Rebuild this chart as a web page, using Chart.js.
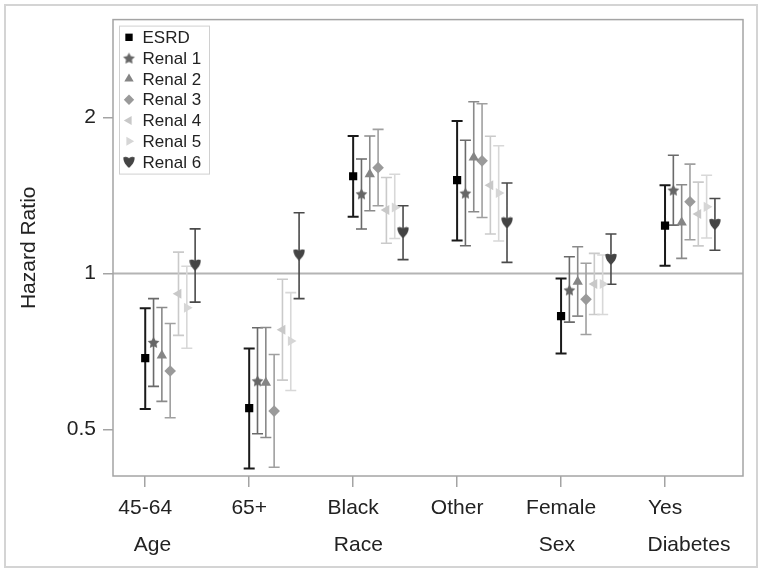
<!DOCTYPE html>
<html>
<head>
<meta charset="utf-8">
<script src="https://cdn.jsdelivr.net/npm/chart.js@4.4.0/dist/chart.umd.min.js"></script>
<style>
  body { margin: 0; background: #fff; }
</style>
</head>
<body>
<canvas id="hrChart" width="762" height="574"></canvas>
<script>
const categories = ["45-64", "65+", "Black", "Other", "Female", "Yes"];
const groupNames = ["Age", "Race", "Sex", "Diabetes"];
const groupAt = [0.07, 2.05, 3.96, 5.23]; // where the group names sit on the x scale
const seriesNames = ["ESRD", "Renal 1", "Renal 2", "Renal 3", "Renal 4", "Renal 5", "Renal 6"];
const yTicks = [0.5, 1, 2];

// one row per series, one column per category
const hazardRatio = [
    [0.687, 0.550, 1.541, 1.514, 0.828, 1.238],
    [0.737, 0.621, 1.425, 1.430, 0.930, 1.449],
    [0.695, 0.616, 1.555, 1.674, 0.965, 1.255],
    [0.649, 0.543, 1.601, 1.650, 0.892, 1.376],
    [0.914, 0.779, 1.326, 1.481, 0.955, 1.303],
    [0.859, 0.741, 1.341, 1.430, 0.955, 1.345],
    [1.040, 1.088, 1.201, 1.255, 1.067, 1.246]
];
const lowerCI = [
    [0.548, 0.421, 1.287, 1.159, 0.701, 1.035],
    [0.606, 0.491, 1.219, 1.132, 0.806, 1.240],
    [0.567, 0.483, 1.322, 1.316, 0.828, 1.070],
    [0.527, 0.423, 1.352, 1.283, 0.763, 1.162],
    [0.760, 0.623, 1.144, 1.192, 0.834, 1.131],
    [0.718, 0.595, 1.169, 1.156, 0.834, 1.171],
    [0.881, 0.895, 1.064, 1.051, 0.954, 1.109]
];
const upperCI = [
    [0.857, 0.717, 1.843, 1.969, 0.979, 1.481],
    [0.895, 0.786, 1.664, 1.808, 1.078, 1.692],
    [0.860, 0.787, 1.843, 2.145, 1.127, 1.484],
    [0.801, 0.698, 1.898, 2.126, 1.047, 1.626],
    [1.100, 0.975, 1.532, 1.840, 1.094, 1.501],
    [1.033, 0.919, 1.555, 1.765, 1.086, 1.548],
    [1.220, 1.310, 1.352, 1.495, 1.192, 1.396]
];

const markerColors = ["#000000", "#666666", "#858585", "#9a9a9a", "#c8c8c8", "#d6d6d6", "#444444"];
const barColors = ["#1a1a1a", "#6a6a6a", "#8a8a8a", "#a0a0a0", "#cacaca", "#d8d8d8", "#4a4a4a"];
const dodge = 0.08;

Chart.defaults.font.family = '"Liberation Sans", Arial, sans-serif';
Chart.defaults.color = "#222";

function starImage(color, r) {
    const c = document.createElement("canvas");
    const s = Math.ceil(r * 2) + 2;
    c.width = c.height = s;
    const g = c.getContext("2d");
    g.fillStyle = color;
    g.beginPath();
    for (let k = 0; k < 10; k++) {
        const a = -Math.PI / 2 + k * Math.PI / 5;
        const rad = k % 2 ? r * 0.5 : r;
        g.lineTo(s / 2 + rad * Math.cos(a), s / 2 + 0.6 + rad * Math.sin(a));
    }
    g.closePath();
    g.fill();
    return c;
}

// shield-like heart used for Renal 6
function heartImage(color, s) {
    const c = document.createElement("canvas");
    c.width = c.height = s;
    const g = c.getContext("2d");
    g.fillStyle = color;
    g.beginPath();
    g.moveTo(s / 2, s * 0.16);
    g.quadraticCurveTo(s * 0.25, s * 0.02, s * 0.03, s * 0.1);
    g.bezierCurveTo(s * 0.02, s * 0.55, s * 0.3, s * 0.78, s / 2, s * 0.98);
    g.bezierCurveTo(s * 0.7, s * 0.78, s * 0.98, s * 0.55, s * 0.97, s * 0.1);
    g.quadraticCurveTo(s * 0.75, s * 0.02, s / 2, s * 0.16);
    g.fill();
    return c;
}

const pointStyles = ["rect", starImage(markerColors[1], 6.2), "triangle", "rectRot", "triangle", "triangle", heartImage(markerColors[6], 12)];
const pointRotations = [0, 0, 0, 0, -90, 90, 0];
const pointSizes = [5.8, 6, 6, 5.8, 5.8, 5.8, 6];

const datasets = seriesNames.map((name, i) => ({
    label: name,
    data: hazardRatio[i].map((v, j) => ({ x: j + i * dodge, y: v })),
    pointStyle: pointStyles[i],
    pointRotation: pointRotations[i],
    pointRadius: pointSizes[i],
    pointBackgroundColor: markerColors[i],
    pointBorderColor: markerColors[i],
    pointBorderWidth: 0,
    showLine: false
}));

const errorBarPlugin = {
    id: "errorBars",
    beforeDraw(chart) {
        const ctx = chart.ctx;
        ctx.save();
        ctx.fillStyle = "#fff";
        ctx.fillRect(0, 0, chart.width, chart.height);
        ctx.restore();
    },
    beforeDatasetsDraw(chart) {
        const ctx = chart.ctx;
        const xs = chart.scales.x, ys = chart.scales.y;
        const ca = chart.chartArea;
        ctx.save();
        // reference line at HR = 1
        const y1 = ys.getPixelForValue(1);
        ctx.strokeStyle = "#b4b4b4";
        ctx.lineWidth = 2;
        ctx.beginPath();
        ctx.moveTo(ca.left, y1);
        ctx.lineTo(ca.right, y1);
        ctx.stroke();

        seriesNames.forEach((name, i) => {
            ctx.strokeStyle = barColors[i];
            ctx.lineWidth = i === 0 ? 2 : 1.6;
            ctx.beginPath();
            hazardRatio[i].forEach((v, j) => {
                const x = xs.getPixelForValue(j + i * dodge);
                const lo = ys.getPixelForValue(lowerCI[i][j]);
                const hi = ys.getPixelForValue(upperCI[i][j]);
                ctx.moveTo(x, lo); ctx.lineTo(x, hi);
                ctx.moveTo(x - 5.5, lo); ctx.lineTo(x + 5.5, lo);
                ctx.moveTo(x - 5.5, hi); ctx.lineTo(x + 5.5, hi);
            });
            ctx.stroke();
        });
        ctx.restore();
    },
    afterDraw(chart) {
        const ctx = chart.ctx;
        const ca = chart.chartArea;
        ctx.save();
        // plot frame
        ctx.strokeStyle = "#a4a4a4";
        ctx.lineWidth = 1.5;
        ctx.strokeRect(ca.left, ca.top, ca.right - ca.left, ca.bottom - ca.top);
        // outer frame
        ctx.strokeStyle = "#d4d4d4";
        ctx.lineWidth = 2;
        ctx.strokeRect(5, 5, chart.width - 10, chart.height - 12);

        // legend inside the plot, top left
        const lx = ca.left + 6, ly = ca.top + 6;
        ctx.strokeStyle = "#d0d0d0";
        ctx.lineWidth = 1;
        ctx.strokeRect(lx + 0.5, ly + 0.5, 90, 148);
        ctx.font = '17px "Liberation Sans", Arial, sans-serif';
        ctx.textBaseline = "middle";
        seriesNames.forEach((name, i) => {
            const y = ly + 11.7 + i * 20.8;
            ctx.fillStyle = markerColors[i];
            Chart.helpers.drawPoint(ctx, {
                pointStyle: pointStyles[i],
                rotation: pointRotations[i],
                radius: pointSizes[i] - 0.6,
                borderWidth: 0
            }, lx + 10, y);
            ctx.fillStyle = "#222";
            ctx.fillText(name, lx + 23.5, y + 1);
        });
        ctx.restore();
    }
};

new Chart(document.getElementById("hrChart"), {
    type: "scatter",
    data: { datasets: datasets },
    options: {
        responsive: false,
        devicePixelRatio: 1,
        animation: false,
        events: [],
        layout: { padding: { left: 0, top: 18, right: 19, bottom: 0 } },
        plugins: {
            legend: { display: false },
            tooltip: { enabled: false }
        },
        scales: {
            x: {
                type: "linear",
                position: "bottom",
                weight: 0,
                min: -0.31,
                max: 5.75,
                bounds: "data",
                afterBuildTicks: scale => {
                    scale.ticks = categories.map((c, j) => ({ value: j }));
                },
                afterFit: scale => { scale.height = 50; },
                grid: { drawOnChartArea: false, drawTicks: true, tickLength: 11, color: "#a4a4a4", lineWidth: 1.5 },
                border: { display: false },
                ticks: {
                    autoSkip: false,
                    maxRotation: 0,
                    padding: 9,
                    font: { size: 21 },
                    callback: (v, j) => categories[j]
                }
            },
            x2: {
                type: "linear",
                axis: "x",
                position: "bottom",
                weight: 1,
                min: -0.31,
                max: 5.75,
                bounds: "data",
                afterBuildTicks: scale => {
                    scale.ticks = groupAt.map(v => ({ value: v }));
                },
                afterFit: scale => { scale.height = 48; },
                grid: { display: false, drawTicks: false, tickLength: 0 },
                border: { display: false },
                ticks: {
                    autoSkip: false,
                    maxRotation: 0,
                    padding: 7,
                    font: { size: 21 },
                    callback: (v, j) => groupNames[j]
                }
            },
            y: {
                type: "logarithmic",
                min: 0.407,
                max: 3.09,
                bounds: "data",
                afterBuildTicks: scale => {
                    scale.ticks = yTicks.map(v => ({ value: v }));
                },
                afterFit: scale => { scale.width = 113; },
                grid: { drawOnChartArea: false, drawTicks: true, tickLength: 10, color: "#a4a4a4", lineWidth: 1.5 },
                border: { display: false },
                ticks: {
                    padding: 7,
                    font: { size: 21 },
                    callback: v => String(v)
                },
                title: {
                    display: true,
                    text: "Hazard Ratio",
                    font: { size: 21 },
                    padding: { top: 17, bottom: 0 }
                }
            }
        }
    },
    plugins: [errorBarPlugin]
});
</script>
</body>
</html>
